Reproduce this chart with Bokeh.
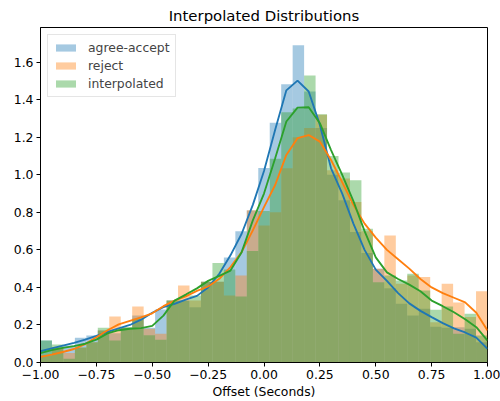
import numpy as np
from bokeh.plotting import figure
from bokeh.models import Range1d, FixedTicker, Legend, LegendItem
from bokeh.embed import file_html
from bokeh.resources import INLINE

# ---- data ----
bin_lo, bin_hi, n_bins = -1.0, 1.0, 39

agree_accept_hist = [0.117, 0.080, 0.090, 0.132, 0.144, 0.170, 0.156, 0.185, 0.250, 0.185,
                     0.283, 0.330, 0.330, 0.295, 0.430, 0.430, 0.560, 0.699, 0.810, 1.036,
                     1.278, 1.483, 1.690, 1.444, 1.250, 1.000, 0.864, 0.695, 0.583, 0.500,
                     0.396, 0.313, 0.250, 0.286, 0.190, 0.185, 0.188, 0.180, 0.108]
reject_hist = [0.037, 0.080, 0.050, 0.080, 0.108, 0.171, 0.245, 0.185, 0.299, 0.180,
               0.153, 0.330, 0.410, 0.330, 0.430, 0.430, 0.357, 0.464, 0.811, 0.730,
               0.800, 1.035, 1.200, 1.250, 1.320, 1.024, 0.980, 0.855, 0.699, 0.500,
               0.677, 0.420, 0.464, 0.455, 0.215, 0.420, 0.320, 0.242, 0.379]
interpolated_hist = [0.117, 0.096, 0.020, 0.080, 0.108, 0.185, 0.117, 0.188, 0.233, 0.145,
                     0.121, 0.330, 0.330, 0.357, 0.430, 0.530, 0.496, 0.352, 0.594, 0.807,
                     1.086, 1.333, 1.353, 1.529, 1.323, 1.100, 1.012, 0.971, 0.713, 0.428,
                     0.464, 0.437, 0.473, 0.384, 0.281, 0.299, 0.153, 0.260, 0.144]

kde_x = [-1.00, -0.95, -0.90, -0.85, -0.80, -0.75, -0.70, -0.65, -0.60, -0.55,
         -0.50, -0.45, -0.40, -0.35, -0.30, -0.25, -0.20, -0.15, -0.10, -0.05,
         0.00, 0.05, 0.10, 0.15, 0.20, 0.25, 0.30, 0.35, 0.40, 0.45,
         0.50, 0.55, 0.60, 0.65, 0.70, 0.75, 0.80, 0.85, 0.90, 0.95, 1.00]
agree_accept_kde = [0.060, 0.075, 0.090, 0.105, 0.122, 0.142, 0.163, 0.182, 0.200, 0.228,
                    0.265, 0.295, 0.313, 0.335, 0.355, 0.400, 0.473, 0.571, 0.686, 0.840,
                    1.020, 1.240, 1.450, 1.502, 1.444, 1.266, 1.035, 0.900, 0.740, 0.600,
                    0.495, 0.435, 0.370, 0.315, 0.275, 0.242, 0.210, 0.182, 0.160, 0.133, 0.073]
reject_kde = [0.030, 0.042, 0.056, 0.072, 0.098, 0.135, 0.172, 0.203, 0.222, 0.240,
              0.262, 0.300, 0.330, 0.352, 0.382, 0.405, 0.446, 0.508, 0.588, 0.704,
              0.828, 0.946, 1.106, 1.195, 1.212, 1.177, 1.079, 0.960, 0.840, 0.740,
              0.665, 0.600, 0.550, 0.500, 0.445, 0.400, 0.370, 0.345, 0.320, 0.265, 0.171]
interpolated_kde = [0.050, 0.066, 0.078, 0.087, 0.100, 0.122, 0.155, 0.172, 0.180, 0.183,
                    0.195, 0.250, 0.330, 0.362, 0.395, 0.435, 0.462, 0.490, 0.588, 0.757,
                    0.900, 1.088, 1.284, 1.358, 1.360, 1.275, 1.132, 1.000, 0.860, 0.700,
                    0.560, 0.480, 0.445, 0.415, 0.380, 0.330, 0.300, 0.268, 0.230, 0.188, 0.117]

series_names = ["agree-accept", "reject", "interpolated"]
series_colors = ["#1f77b4", "#ff7f0e", "#2ca02c"]

x_ticks = [-1.0, -0.75, -0.5, -0.25, 0.0, 0.25, 0.5, 0.75, 1.0]
y_ticks = [0.0, 0.2, 0.4, 0.6, 0.8, 1.0, 1.2, 1.4, 1.6]

# ---- figure ----
FONT = "DejaVu Sans"
p = figure(width=500, height=401, output_backend="svg", toolbar_location=None,
           x_range=Range1d(-1.0, 1.0), y_range=Range1d(0.0, 1.785),
           title="Interpolated Distributions")
p.min_border_left = 40
p.min_border_right = 13
p.min_border_top = 27
p.min_border_bottom = 39
p.background_fill_color = "white"
p.border_fill_color = "white"
p.outline_line_color = "black"
p.outline_line_width = 1
p.xgrid.visible = False
p.ygrid.visible = False

p.title.align = "center"
p.title.text_font = FONT
p.title.text_font_size = "14.9px"
p.title.text_font_style = "normal"
p.title.text_color = "black"
p.title.standoff = 6

edges = np.linspace(bin_lo, bin_hi, n_bins + 1)
lefts = edges[:-1]
rights = edges[1:]

items = []
for name, col, h in zip(series_names, series_colors,
                        [agree_accept_hist, reject_hist, interpolated_hist]):
    r = p.quad(left=lefts, right=rights, bottom=0, top=h,
               fill_color=col, fill_alpha=0.4, line_color=None)
    items.append(LegendItem(label=name, renderers=[r]))

for col, ys in zip(series_colors, [agree_accept_kde, reject_kde, interpolated_kde]):
    p.line(kde_x, ys, line_color=col, line_width=1.85)

legend = Legend(items=items, location="top_left")
legend.label_text_font = FONT
legend.label_text_font_size = "12.4px"
legend.glyph_width = 25
legend.glyph_height = 9
legend.label_standoff = 10
legend.label_height = 15
legend.spacing = 3
legend.padding = 5
legend.margin = 7
legend.border_line_color = "#cccccc"
legend.border_line_width = 1
legend.background_fill_alpha = 0.8
p.add_layout(legend)

minus = "\u2212"
def fmt(v, d):
    s = f"{abs(v):.{d}f}"
    return (minus + s) if v < 0 else s

p.xaxis.ticker = FixedTicker(ticks=x_ticks)
p.xaxis.major_label_overrides = {t: fmt(t, 2) for t in x_ticks}
p.yaxis.ticker = FixedTicker(ticks=y_ticks)
p.yaxis.major_label_overrides = {t: fmt(t, 1) for t in y_ticks}
p.xaxis.axis_label = "Offset (Seconds)"

for ax in (p.xaxis[0], p.yaxis[0]):
    ax.major_tick_out = 4
    ax.major_tick_in = 0
    ax.minor_tick_out = 0
    ax.minor_tick_in = 0
    ax.major_label_standoff = 3
    ax.axis_label_standoff = 2
    ax.major_label_text_font = FONT
    ax.major_label_text_font_size = "12.4px"
    ax.axis_label_text_font = FONT
    ax.axis_label_text_font_size = "12.4px"
    ax.axis_label_text_font_style = "normal"
    ax.axis_line_color = "black"
    ax.major_tick_line_color = "black"
    ax.major_label_text_color = "black"
    ax.axis_label_text_color = "black"

open("out.html", "w").write(file_html(p, INLINE))
